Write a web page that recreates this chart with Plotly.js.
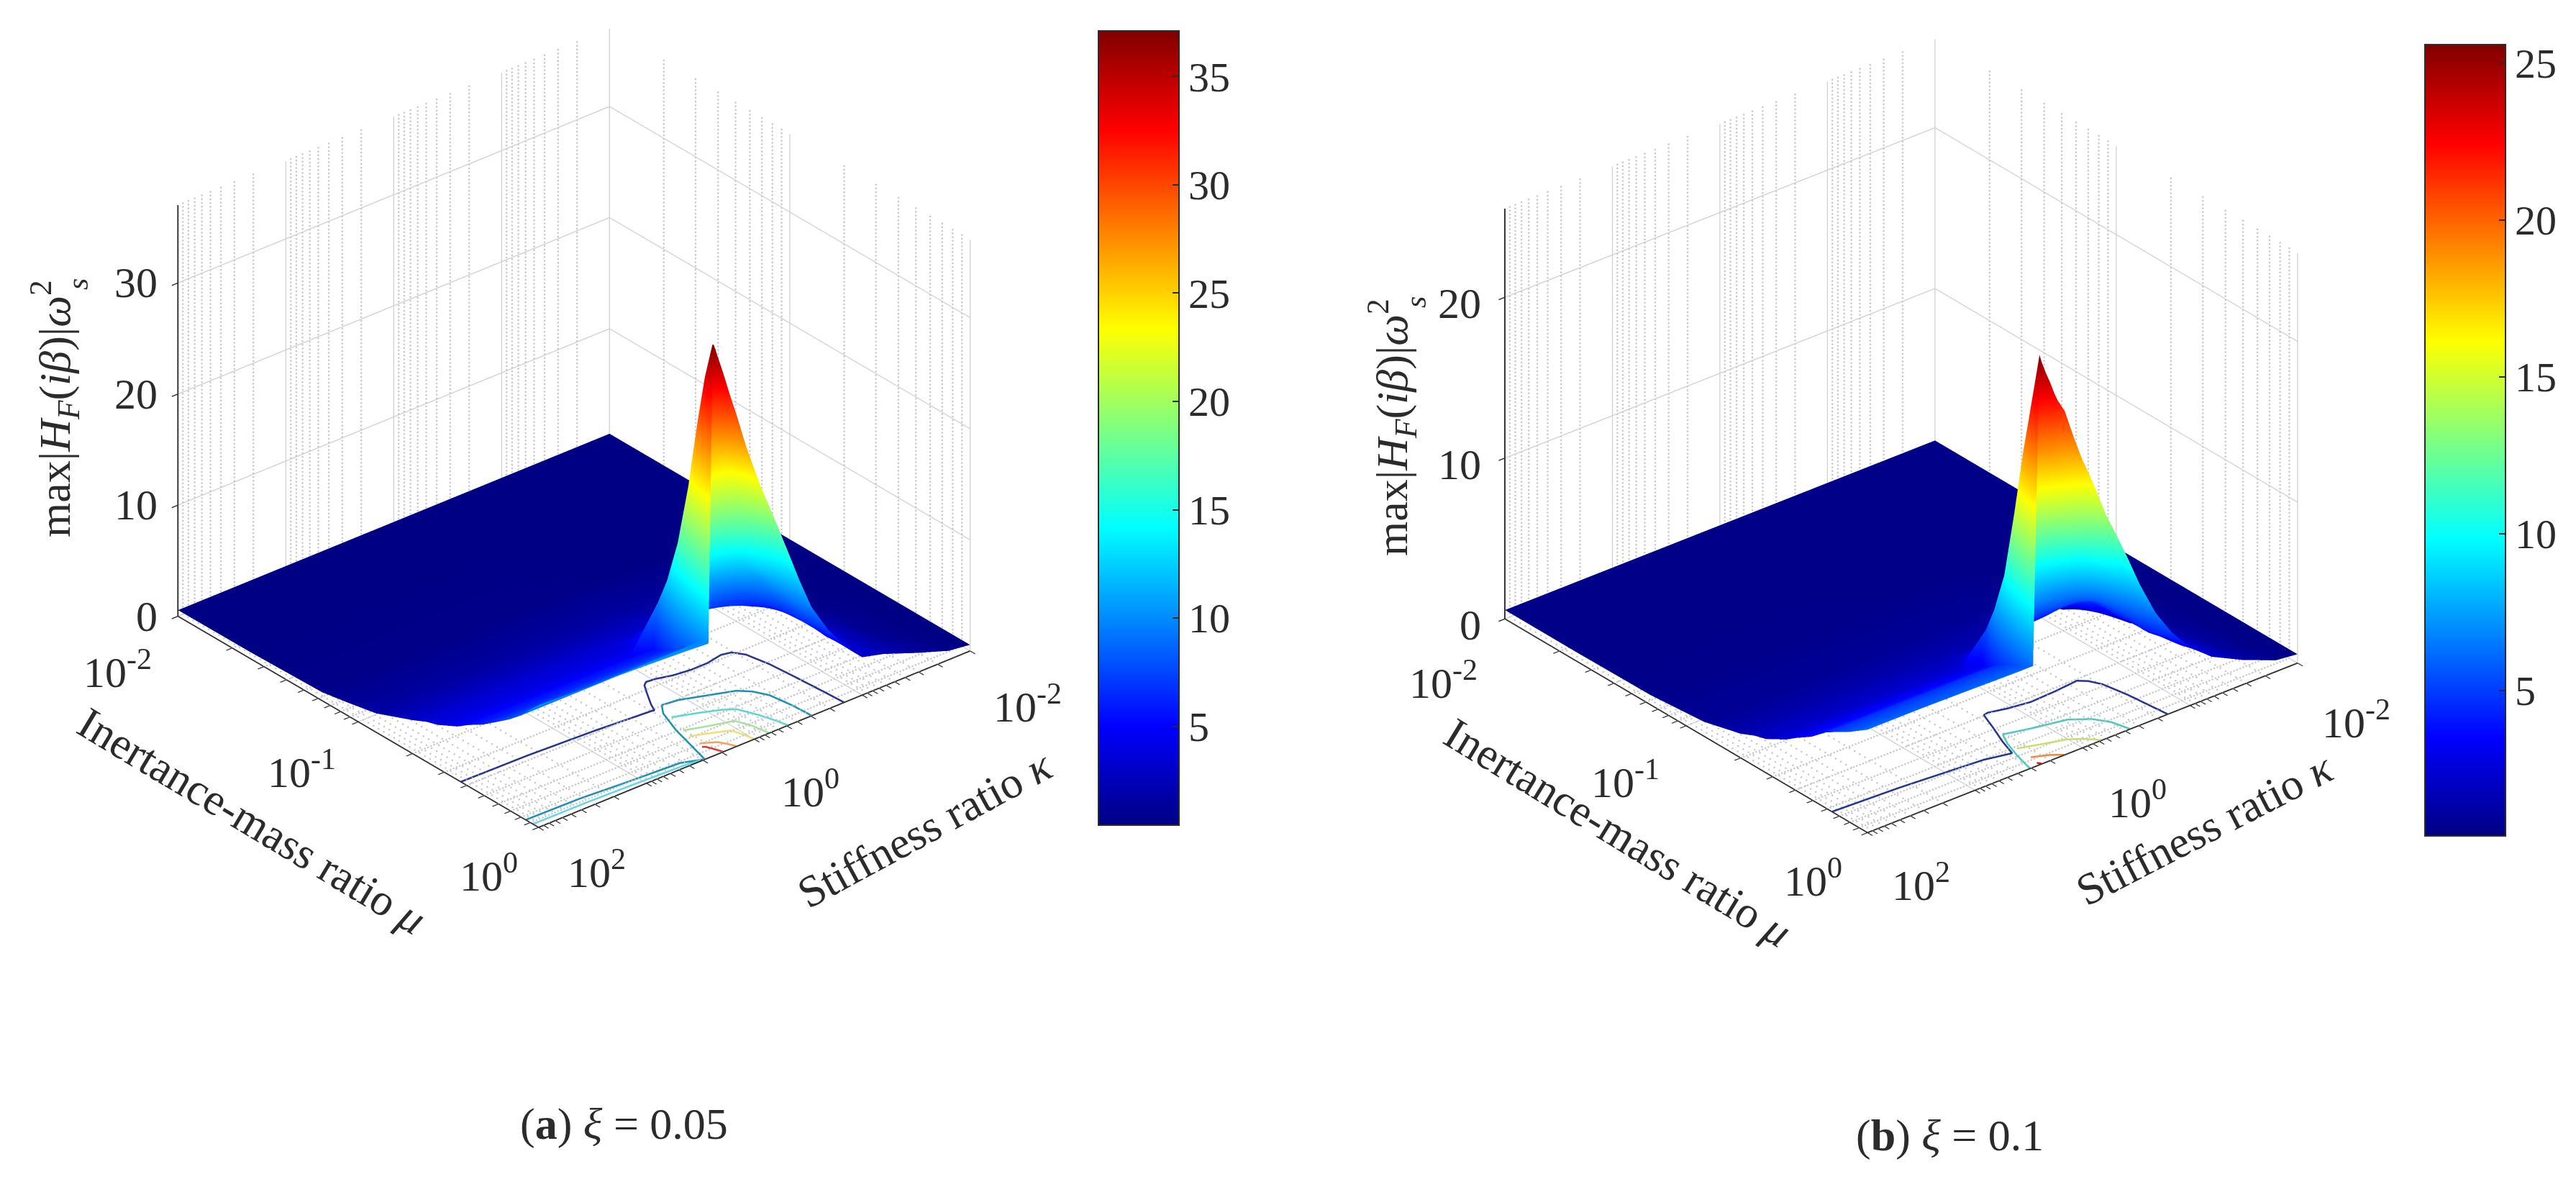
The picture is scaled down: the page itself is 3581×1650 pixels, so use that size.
<!DOCTYPE html>
<html><head><meta charset="utf-8">
<script src="https://cdn.plot.ly/plotly-3.0.1.min.js"></script>
<style>html,body{margin:0;padding:0;background:#fff;overflow:hidden}#g{width:3581px;height:1650px}</style></head>
<body><div id="g"></div>
<script>
const kappaExp=[-2,-1.8,-1.5,-1.2,-1,-.83,-.68,-.53,-.42,-.31,-.22,-.136,-.06,0,.08,.166,.23,.26,.3,.34,.36,.38,.4,.42,.46,.6,1,1.5,2];
const muExp=[-2,-1.6,-1.2,-1.05,-.9,-.8,-.7,-.62,-.56,-.45,-.39,-.31,-.23,-.16,-.1,-.05,0];
// kappa exponent of the vertical jump in each mu row (null: no jump in that row)
const jumpA=[null,null,null,null,null,null,null,null,null,null,.245,.29,.325,.345,.36,.375,.385];
const jumpB=[null,null,null,null,null,null,null,null,null,null,.24,.30,.34,.365,.385,.40,.41];
const zA=[
[.55,.55,.55,.55,.55,.55,.55,.55,.55,.55,.55,.55,.55,.55,.55,.55,.55,.55,.55,.55,.55,.55,.55,.55,.55,.55,.55,.55,.55],
[.55,.55,.55,.55,.55,.55,.56,.56,.57,.57,.57,.58,.58,.58,.58,.58,.58,.58,.58,.58,.58,.58,.58,.58,.58,.58,.58,.58,.58],
[.55,.55,.55,.57,.58,.6,.62,.65,.68,.7,.7,.72,.72,.72,.75,.75,.75,.75,.75,.75,.75,.75,.75,.75,.75,.75,.75,.75,.75],
[.55,.55,.6,.7,.85,1,1.1,1.12,1.15,1.18,1.2,1.2,1.2,1.2,1.2,1.2,1.2,1.2,1.2,1.2,1.2,1.2,1.2,1.2,1.2,1.2,1.2,1.2,1.2],
[.55,.55,.57,.66,.9,1.2,1.4,1.5,1.55,1.6,1.7,1.7,1.7,1.7,1.7,1.7,1.7,1.7,1.7,1.7,1.7,1.7,1.7,1.7,1.7,1.7,1.7,1.7,1.7],
[.55,.56,.6,.8,1.3,1.8,2,2.1,2.2,2.25,2.35,2.35,2.35,2.35,2.35,2.35,2.35,2.35,2.35,2.35,2.35,2.35,2.35,2.35,2.35,2.35,2.35,2.35,2.35],
[.55,.56,.6,1,1.8,2.6,3,3,3,3,3,3,3,3,3,3,3,3,3,3,3,3,3,3,3,3,3,3,3],
[.55,.57,.7,1.2,2.2,3.2,3.6,3.6,3.6,3.6,3.6,3.6,3.6,3.6,3.6,3.6,3.6,3.6,3.6,3.6,3.6,3.6,3.6,3.6,3.6,3.6,3.6,3.6,3.6],
[.55,.57,.8,1.6,2.9,4,4.5,4.6,4.8,4.85,4.85,4.9,4.95,5,5,4.6,4.2,4.1,3.9,3.9,3.9,3.9,3.9,3.9,3.9,3.9,3.9,3.9,3.9],
[.55,.57,.95,2,3.4,4.6,5.4,6,6.3,6.5,6.7,6.8,6.9,6.9,6.8,6.6,6,5.2,4.8,4.8,4.8,4.8,4.8,4.8,4.8,4.8,4.8,4.8,4.8],
[.55,.58,1.1,2.2,3.7,4.8,5.5,6.2,6.6,6.9,7.1,7.3,7.5,7.7,8.2,8.6,9.4,9.5,9.5,9.5,9.5,9.5,9.5,5.5,5.5,5.5,5.5,5.5,5.5],
[.55,.6,1.1,2.4,3.5,5,6.2,7.6,8.8,9.8,10.4,10.8,11,11.2,11.5,11.8,12.1,12.3,12.5,12.5,12.5,12.5,12.5,6.3,6.3,6.3,6.3,6.3,6.3],
[.55,.6,1.2,2.6,3.7,5.1,6.6,8.8,10.7,12,13,13.7,14.3,14.7,15.1,15.5,15.9,16.2,16.5,16.8,16.8,16.8,16.8,7.3,7.3,7.3,7.3,7.3,7.3],
[.55,.65,1.3,2.5,3.6,5.1,6.6,9.3,11.2,13,14.8,16.2,17.5,18.3,19.1,19.9,20.5,21,21.6,22.3,22.6,22.6,22.6,8.2,8.2,8.2,8.2,8.2,8.2],
[.55,.7,1.4,2.6,3.5,5,6.8,9.3,11.8,14.3,16.4,18.2,20.3,22,24,25.5,26.6,27.1,27.7,28.3,28.8,29,29,9.1,9.1,9.1,9.1,9.1,9.1],
[.55,.75,1.6,2.7,3.4,5.1,7,9.6,12.3,15.3,17.5,19.5,21.5,23.3,25.5,27.7,29.4,30.5,31.5,32.4,33,33.4,33.6,10,10,10,10,10,10.1],
[.55,.8,1.8,2.9,3.4,5.2,7.2,9.8,12.6,15.7,18.2,20.5,22.5,24.3,26.8,29.9,32,33.1,34.5,35.8,36.5,37.1,37.2,10.3,10.3,10.4,10.6,10.8,11]];
const zB=[
[.55,.55,.55,.55,.55,.55,.55,.55,.55,.55,.55,.55,.55,.55,.55,.55,.55,.55,.55,.55,.55,.55,.55,.55,.55,.55,.55,.55,.55],
[.55,.55,.55,.55,.55,.55,.55,.55,.55,.55,.55,.55,.55,.55,.55,.55,.55,.55,.55,.55,.55,.55,.55,.55,.55,.55,.55,.55,.55],
[.55,.55,.55,.55,.55,.56,.56,.57,.58,.58,.58,.59,.59,.59,.6,.6,.6,.6,.6,.6,.6,.6,.6,.6,.6,.6,.6,.6,.6],
[.55,.55,.55,.6,.65,.7,.72,.73,.74,.75,.75,.75,.75,.75,.75,.75,.75,.75,.75,.75,.75,.75,.75,.75,.75,.75,.75,.75,.75],
[.55,.55,.55,.6,.72,.85,.88,.88,.88,.88,.9,.9,.9,.9,.9,.9,.9,.9,.9,.9,.9,.9,.9,.9,.9,.9,.9,.9,.9],
[.55,.55,.6,.8,1.1,1.4,1.3,1.2,1.2,1.2,1.2,1.2,1.2,1.2,1.2,1.2,1.2,1.2,1.2,1.2,1.2,1.2,1.2,1.2,1.2,1.2,1.2,1.2,1.2],
[.55,.55,.6,.9,1.3,2,1.9,1.8,1.7,1.6,1.5,1.5,1.5,1.5,1.5,1.5,1.5,1.5,1.5,1.5,1.5,1.5,1.5,1.5,1.5,1.5,1.5,1.5,1.5],
[.55,.56,.6,1.1,1.9,2.5,2.5,2.3,2.2,2.1,1.9,1.9,1.9,1.9,1.9,1.9,1.9,1.9,1.9,1.9,1.9,1.9,1.9,1.9,1.9,1.9,1.9,1.9,1.9],
[.55,.56,.9,1.4,2.2,3,3,2.9,2.8,2.7,2.7,2.6,2.6,2.6,2.6,2.4,2.2,2.15,2.1,2.1,2.1,2.1,2.1,2.1,2.1,2.1,2.1,2.1,2.1],
[.55,.56,.9,1.6,2.6,3.4,4.3,4.2,4.1,4.1,4.1,4.1,4.1,4.1,4.1,3.9,3.3,2.9,2.8,2.8,2.8,2.8,2.8,2.8,2.8,2.8,2.8,2.8,2.8],
[.55,.56,1,1.9,3,4.1,4.8,4.9,4.95,4.95,4.95,5,5.05,5.15,5.3,5.3,5.3,5.4,5.4,5.4,5.4,5.4,5.4,3.3,3.3,3.3,3.3,3.3,3.3],
[.55,.57,1.1,2.1,3,4,5.2,5.8,6.1,6.3,6.5,6.6,6.6,6.6,6.6,6.6,6.7,6.9,7.2,7.3,7.3,7.3,7.3,3.9,3.9,3.9,3.9,3.9,3.9],
[.55,.58,1.2,2.2,3,4.2,5.3,6.6,7.4,8.1,8.6,9,9.4,9.7,9.8,9.9,9.9,10,10,10,10.1,10.1,10.1,4.7,4.7,4.7,4.7,4.7,4.7],
[.55,.6,1.25,2.4,3.2,4.1,5.6,7.2,8.4,9.6,10.4,11,11.5,12,12.5,13,13.4,13.6,13.9,14.2,14.4,14.5,14.5,5.2,5.2,5.2,5.2,5.2,5.2],
[.55,.62,1.3,2.5,3.3,4.3,5.9,7.9,9.3,10.6,11.6,12.4,13.1,13.7,14.5,15.4,16.2,16.6,17.2,17.8,18.2,18.6,18.7,5.6,5.6,5.6,5.6,5.6,5.6],
[.55,.65,1.4,2.5,3.4,4.6,6.3,8.6,10.4,11.9,13,14.2,15.1,15.8,16.7,17.6,18.4,18.9,19.6,20.4,20.9,21.4,21.8,5.9,5.9,5.9,5.9,5.9,6],
[.55,.7,1.5,2.5,3.6,5,6.6,8.8,10.7,12.5,13.9,15.5,16.9,17.9,19.5,21.4,22.2,22.7,23.5,24.2,24.6,25,25.5,6.3,6.3,6.3,6.35,6.4,6.4]];
const contA=[
 {c:'#27348f',u:[2,1.4,.8,.3,.28,.24,.16,.1,.06,-.02,-.15,-.3,-.45,-.6,-.68,-.74,-.78,-.8,-.82,-.83],v:[-.43,-.425,-.41,-.39,-.387,-.43,-.5,-.55,-.565,-.56,-.54,-.53,-.53,-.545,-.535,-.49,-.38,-.25,-.1,0]},
 {c:'#1d8fb0',u:[2,1.5,1.12,.63,.46,.42,.344,.26,.19,.05,-.1,-.35,-.43,-.49,-.52,-.53],v:[-.07,-.065,-.05,-.035,0,-.08,-.23,-.35,-.40,-.39,-.36,-.31,-.27,-.21,-.1,0]},
 {c:'#62d6e4',u:[2,1.5,1.12,.63,.46],v:[-.03,-.028,-.022,-.012,-.004]},
 {c:'#58d8d0',u:[.25,.05,-.1,-.18,-.25,-.29,-.31],v:[-.31,-.27,-.235,-.206,-.12,-.05,0]},
 {c:'#a6e2a0',u:[.31,.15,-.06,-.11,-.136],v:[-.21,-.18,-.146,-.08,0]},
 {c:'#ecdf7a',u:[.33,.15,.05,.02,0],v:[-.163,-.125,-.10,-.05,0]},
 {c:'#f2a060',u:[.34,.23,.19,.166],v:[-.10,-.066,-.03,0]},
 {c:'#d8382a',u:[.36,.34,.31,.29],v:[-.075,-.068,-.03,0]}];
const contB=[
 {c:'#27348f',u:[2,1.4,.67,.446,.39,.31,.244,.2,.05,-.14,-.38,-.6,-.66,-.71,-.75,-.79],v:[-.194,-.18,-.15,-.124,-.21,-.31,-.40,-.405,-.385,-.37,-.376,-.387,-.36,-.31,-.197,0]},
 {c:'#4fc6c0',u:[.49,.44,.38,.32,.1,-.18,-.32,-.4,-.44],v:[0,-.10,-.19,-.25,-.22,-.19,-.14,-.08,0]},
 {c:'#c9dd70',u:[.376,.2,.01,-.08,-.15,-.17],v:[-.14,-.11,-.08,-.05,-.015,0]},
 {c:'#ea8a3e',u:[.38,.25,.17],v:[-.06,-.03,0]},
 {c:'#c81e1e',u:[.40,.38],v:[-.015,0]}];
const kappaMajor=[.01,.1,1,10,100], muMajor=[.01,.1,1];
const kappaMinor=[.02,.03,.04,.05,.06,.07,.08,.09,.2,.3,.4,.5,.6,.7,.8,.9,2,3,4,5,6,7,8,9,20,30,40,50,60,70,80,90];
const muMinor=[.02,.03,.04,.05,.06,.07,.08,.09,.2,.3,.4,.5,.6,.7,.8,.9];
const zTicksA=[0,10,20,30], zTicksB=[0,10,20];
const barTicksA=[5,10,15,20,25,30,35], barTicksB=[5,10,15,20,25];
const jet=[[0,'rgb(0,0,131)'],[.125,'rgb(0,0,255)'],[.375,'rgb(0,255,255)'],[.625,'rgb(255,255,0)'],[.875,'rgb(255,0,0)'],[1,'rgb(128,0,0)']];
const SERIF='"Liberation Serif","Times New Roman",serif', INK='#2b2b2b';
const P=10;
const pow=e=>Math.pow(P,e);
const LAST_HIGH=22;
function rowKappa(jump,gap){
  return jump.map(ud=>kappaExp.map((u,j)=>{
    if(ud===null) return pow(u);
    if(j<=LAST_HIGH) return pow(Math.min(u,ud));
    if(j===LAST_HIGH+1) return pow(ud+gap);
    return pow(Math.max(u,ud+gap+.001));
  }));
}
function gridLines(kap,mu,zMax){
  const x=[],y=[],z=[];
  const seg=(a,b,c,d,e,f)=>{x.push(a,d,null);y.push(b,e,null);z.push(c,f,null);};
  kap.forEach(k=>{seg(k,.01,0,k,1,0);seg(k,.01,0,k,.01,zMax);});
  mu.forEach(m=>{seg(.01,m,0,100,m,0);seg(.01,m,0,.01,m,zMax);});
  return {x,y,z};
}
function stipple(kap,mu,zMax){
  const x=[],y=[],z=[],W=110,F=70;
  kap.forEach(k=>{
    for(let i=0;i<=W;i++){x.push(k);y.push(.01);z.push(zMax*i/W);}
    for(let i=0;i<=F;i++){x.push(k);y.push(pow(-2+2*i/F));z.push(0);}
  });
  mu.forEach(m=>{
    for(let i=0;i<=W;i++){x.push(.01);y.push(m);z.push(zMax*i/W);}
    for(let i=0;i<=F*2;i++){x.push(pow(-2+4*i/(F*2)));y.push(m);z.push(0);}
  });
  return {x,y,z};
}
function panel(o){
  const s=o.scene, out=[];
  out.push({type:'surface',scene:s,x:rowKappa(o.jump,o.gap),y:muExp.map(pow),z:o.z,colorscale:jet,cmin:o.cmin,cmax:o.cmax,hoverinfo:'skip',
    lighting:{ambient:1,diffuse:0,specular:0,roughness:1,fresnel:0},
    colorbar:{x:o.barX/3581,xanchor:'left',y:1-(o.barTop+o.barBot)/2/1650,yanchor:'middle',lenmode:'pixels',len:o.barBot-o.barTop,thicknessmode:'pixels',thickness:o.barW,xpad:0,ypad:0,
      tickmode:'array',tickvals:o.barTicks,ticks:'inside',ticklen:10,tickcolor:INK,tickwidth:2,outlinecolor:INK,outlinewidth:2,tickprefix:'\u00a0',
      tickfont:{family:SERIF,size:58,color:INK}}});
  const mi=stipple(kappaMinor,muMinor,o.zMax), ma=gridLines(kappaMajor,muMajor,o.zMax);
  out.push({type:'scatter3d',mode:'markers',scene:s,...mi,hoverinfo:'skip',showlegend:false,marker:{color:'#c8c8c8',size:1.5,line:{width:0},opacity:1}});
  out.push({type:'scatter3d',mode:'lines',scene:s,...ma,connectgaps:false,hoverinfo:'skip',showlegend:false,line:{color:'#cfcfcf',width:2.5}});
  o.cont.forEach(c=>out.push({type:'scatter3d',mode:'lines',scene:s,x:c.u.map(pow),y:c.v.map(pow),z:c.u.map(()=>0.02),hoverinfo:'skip',showlegend:false,line:{color:c.c,width:5}}));
  return out;
}
const allK=kappaMajor.concat(kappaMinor).sort((a,b)=>a-b), allM=muMajor.concat(muMinor).sort((a,b)=>a-b);
function scene(o){
  const anns=[];
  const lab=(x,y,z,t,xs,ys,anc)=>anns.push({x,y,z,text:t,showarrow:false,xshift:xs,yshift:ys,xanchor:anc||'center',yanchor:'middle',font:{family:SERIF,size:o.tick,color:INK}});
  o.muLab.forEach(l=>lab(2,l[0],0,'10<sup>'+l[0]+'</sup>',l[1],l[2]));
  o.kLab.forEach(l=>lab(l[0],0,0,'10<sup>'+l[0]+'</sup>',l[1],l[2]));
  o.zTicks.forEach(z=>lab(2,-2,z,String(z),o.zx,o.zy,'right'));
  const ax={showgrid:false,zeroline:false,showline:true,linecolor:INK,linewidth:4,ticks:'outside',ticklen:11,tickwidth:3,tickcolor:INK,showticklabels:false,showspikes:false,showbackground:false,title:{text:''}};
  return {domain:{x:[o.dx[0]/3581,o.dx[1]/3581],y:[1-o.dy[1]/1650,1-o.dy[0]/1650]},
    bgcolor:'rgba(0,0,0,0)',dragmode:false,
    xaxis:{...ax,type:'log',range:[-2,2],tickmode:'array',tickvals:allK},
    yaxis:{...ax,type:'log',range:[-2,0],tickmode:'array',tickvals:allM},
    zaxis:{...ax,range:[0,o.zMax],tickmode:'array',tickvals:o.zTicks,showgrid:true,gridcolor:'#d2d2d2',gridwidth:3},
    aspectmode:'manual',aspectratio:o.aspect,
    camera:{eye:o.eye,center:{x:0,y:0,z:0},up:{x:0,y:0,z:1},projection:{type:'orthographic'}},
    annotations:anns};
}
const D=3, K=1.314;
const A={scene:'scene',z:zA,jump:jumpA,gap:.04,cmin:.44,cmax:37.1,zMax:37,barX:1527,barTop:43,barBot:1147,barW:112,barTicks:barTicksA,cont:contA,tick:60,
  muLab:[[-2,-84,-74],[-1,-79,-66],[0,-69,-63]],kLab:[[2,81,-58],[0,78,-69],[-2,80,-74]],zTicks:zTicksA,zx:-26,zy:0,
  dx:[48,1548],dy:[0,1190],aspect:{x:K,y:K,z:.838*K},eye:{x:.559*D,y:.669*D,z:.489*D}};
const B={scene:'scene2',z:zB,jump:jumpB,gap:.05,cmin:.37,cmax:25.6,zMax:25.5,barX:3371,barTop:62,barBot:1162,barW:112,barTicks:barTicksB,cont:contB,tick:60,
  muLab:[[-2,-85,-85],[-1,-85,-75],[0,-76,-63]],kLab:[[2,74,-69],[0,76,-72],[-2,81,-79]],zTicks:zTicksB,zx:-31,zy:-9,
  dx:[1893,3393],dy:[0,1212],aspect:{x:.97*K,y:K,z:.817*K},eye:{x:.5545*D,y:.678*D,z:.482*D}};
const note=(x,y,t,ang,size)=>({xref:'paper',yref:'paper',x:x/3581,y:1-y/1650,text:t,textangle:ang,showarrow:false,xanchor:'center',yanchor:'middle',font:{family:SERIF,size:size||62,color:INK}});
const zTitle='max|<i>H</i><sub><i>F</i></sub>(<i>iβ</i>)|<i>ω</i><sup>2</sup>';
const layout={width:3581,height:1650,margin:{l:0,r:0,t:0,b:0},paper_bgcolor:'#fff',showlegend:false,
  scene:scene(A),scene2:scene(B),
  annotations:[
   note(350,1141,'Inertance-mass ratio <i>μ</i>',31),note(1286,1152,'Stiffness ratio <i>κ</i>',-28.5),note(75,568,zTitle,-90),note(108,395,'<i>s</i>',-90,42),
   note(867,1562,'(<b>a</b>) <i>ξ</i> = 0.05',0),
   note(2249,1157,'Inertance-mass ratio <i>μ</i>',31.4),note(3065,1152,'Stiffness ratio <i>κ</i>',-27.3),note(1934,594,zTitle,-90),note(1968,420,'<i>s</i>',-90,42),
   note(2710,1578,'(<b>b</b>) <i>ξ</i> = 0.1',0)]};
Plotly.newPlot('g',panel(A).concat(panel(B)),layout,{displayModeBar:false});
</script></body></html>
